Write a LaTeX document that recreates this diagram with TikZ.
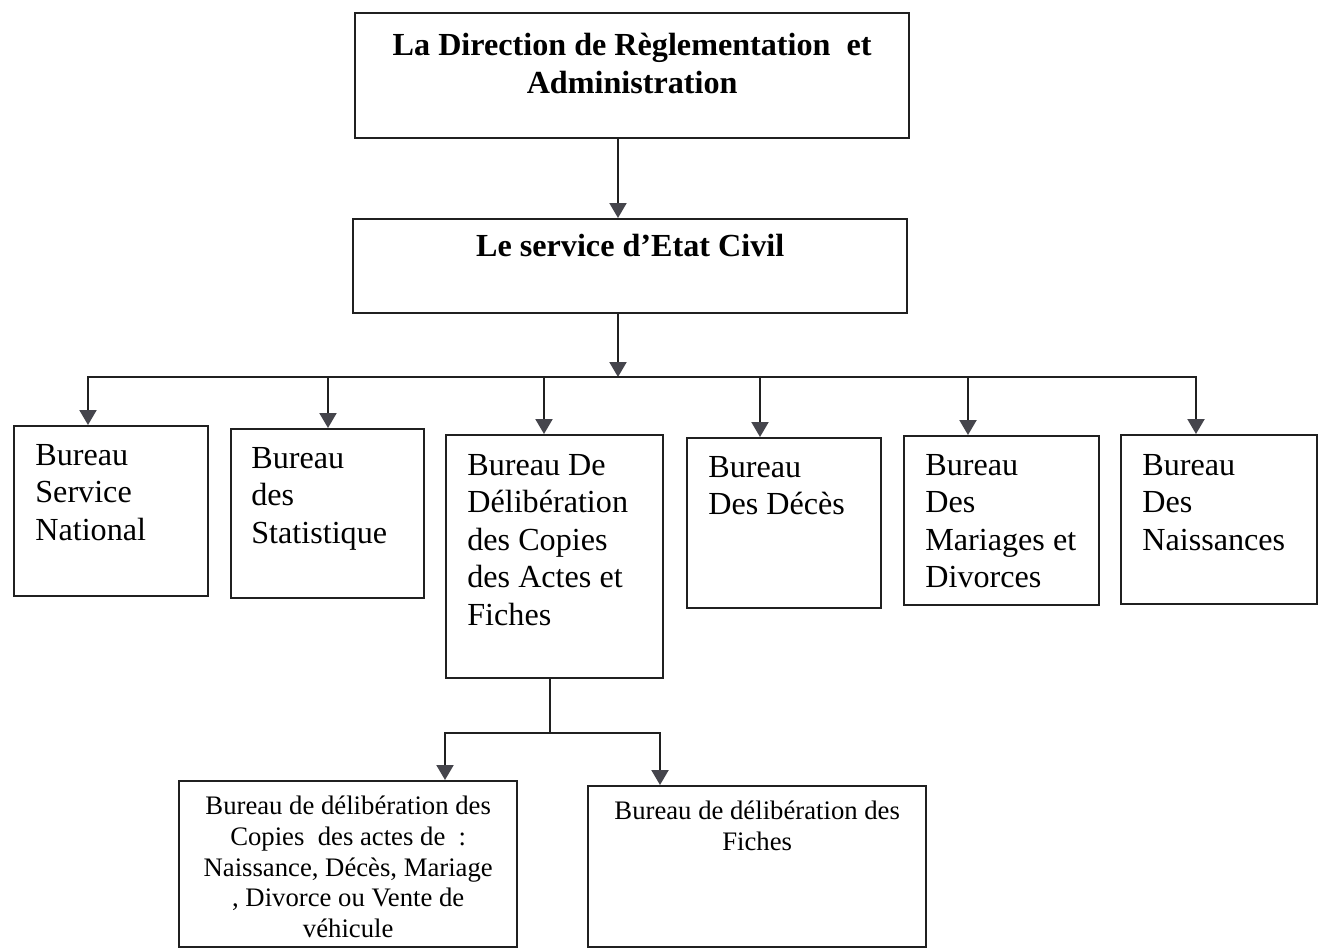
\documentclass[tikz,border=0pt]{standalone}
\usepackage{fontspec}
\setmainfont{Liberation Serif}
\usetikzlibrary{arrows.meta}
\definecolor{linegray}{HTML}{202020}
\definecolor{tipgray}{HTML}{45454C}
\begin{document}
\begin{tikzpicture}[x=0.02cm,y=-0.02cm,
    box/.style={draw=linegray,line width=1.4pt,anchor=north west,inner sep=0},
    head/.style={inner sep=0,align=center,anchor=north,font=\fontsize{18.3}{21.6}\selectfont\bfseries},
    big/.style={inner sep=0,align=left,anchor=north west,font=\fontsize{18.3}{21.3}\selectfont},
    small/.style={inner sep=0,align=center,anchor=north,font=\fontsize{15.2}{17.4}\selectfont},
    link/.style={draw=linegray,line width=1.2pt,line cap=rect},
    arr/.style={draw=linegray,line width=1.2pt,-{Triangle[width=0.34cm,length=0.3cm,color=tipgray]}}]
  \useasboundingbox (0,0) rectangle (1319,948);
  \node[box,minimum width=11.08cm,minimum height=2.5cm](dir) at (354,12) {};
  \node[head](dir-t) at ([shift={(0,21)}]dir.north) {La Direction de Règlementation\ \ et\\Administration};
  \node[box,minimum width=11.08cm,minimum height=1.88cm](svc) at (352,218) {};
  \node[head](svc-t) at ([shift={(0,16)}]svc.north) {Le service d’Etat Civil};
  \node[box,minimum width=3.88cm,minimum height=3.4cm](sn) at (13,425) {};
  \node[big](sn-t) at ([shift={(22,19)}]sn.north west) {Bureau\\Service\\National};
  \node[box,minimum width=3.86cm,minimum height=3.38cm](st) at (230,428) {};
  \node[big](st-t) at ([shift={(21,19)}]st.north west) {Bureau\\des\\Statistique};
  \node[box,minimum width=4.34cm,minimum height=4.86cm](dc) at (445,434) {};
  \node[big](dc-t) at ([shift={(22,20)}]dc.north west) {Bureau De\\Délibération\\des Copies\\des Actes et\\Fiches};
  \node[box,minimum width=3.88cm,minimum height=3.4cm](dd) at (686,437) {};
  \node[big](dd-t) at ([shift={(22,19)}]dd.north west) {Bureau\\Des Décès};
  \node[box,minimum width=3.9cm,minimum height=3.38cm](md) at (903,435) {};
  \node[big](md-t) at ([shift={(22,19)}]md.north west) {Bureau\\Des\\Mariages et\\Divorces};
  \node[box,minimum width=3.92cm,minimum height=3.38cm](na) at (1120,434) {};
  \node[big](na-t) at ([shift={(22,20)}]na.north west) {Bureau\\Des\\Naissances};
  \node[box,minimum width=6.76cm,minimum height=3.32cm](ca) at (178,780) {};
  \node[small](ca-t) at ([shift={(0,16)}]ca.north) {Bureau de délibération des\\Copies\ \ des actes de\ \ :\\Naissance, Décès, Mariage\\, Divorce ou Vente de\\véhicule};
  \node[box,minimum width=6.76cm,minimum height=3.22cm](fi) at (587,785) {};
  \node[small](fi-t) at ([shift={(0,16)}]fi.north) {Bureau de délibération des\\Fiches};
  \coordinate (j1) at (618,377);
  \draw[arr] (dir.south -| j1) -- (svc.north -| j1);
  \draw[arr] (svc.south -| j1) -- (j1);
  \foreach \n/\x in {sn/88,st/328,dc/544,dd/760,md/968,na/1196}
    {\coordinate (t-\n) at (\x,377);
     \draw[arr] (t-\n) -- (t-\n |- \n.north);}
  \draw[link] (t-sn) -- (t-na);
  \coordinate (j2) at (550,733);
  \coordinate (k1) at (445,733);
  \coordinate (k2) at (660,733);
  \draw[link] (dc.south -| j2) -- (j2);
  \draw[link] (k1) -- (k2);
  \draw[arr] (k1) -- (k1 |- ca.north);
  \draw[arr] (k2) -- (k2 |- fi.north);
\end{tikzpicture}
\end{document}
